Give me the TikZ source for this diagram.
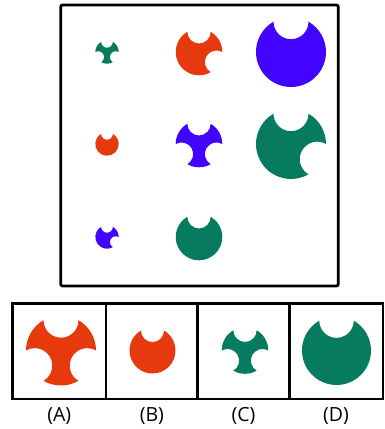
\documentclass[tikz,border=0pt]{standalone}
\usepackage{fontspec}
\setsansfont{Open Sans}
\definecolor{cred}{HTML}{E63A0E}
\definecolor{cblue}{HTML}{4203FF}
\definecolor{cgreen}{HTML}{077B5F}
\newcommand\bitesec[2]{arc[start angle=#1-60, end angle=#1-30, radius=#2] arc[start angle=#1-90, end angle=#1-270, radius=0.5*#2] arc[start angle=#1+30, end angle=#1+60, radius=#2]}
\newcommand\fullsec[2]{arc[start angle=#1-60, end angle=#1+60, radius=#2]}
\newcommand\shp[7]{%
  \begin{scope}[shift={(#1,#2)}]
    \fill[#4] (-90:#3) #5{-30}{#3} #6{90}{#3} #7{210}{#3} -- cycle;
    \draw[#4!92!black, line width=0.25pt, opacity=0.35] (0,0) -- (30:#3) (0,0) -- (150:#3) (0,0) -- (270:#3);
  \end{scope}}
\tikzset{frame/.style={draw=black, line width=2.8pt}, lbl/.style={font=\sffamily\fontsize{19.5}{22}\selectfont}}
\begin{document}
\begin{tikzpicture}[x=1pt,y=1pt]
\useasboundingbox (0,0) rectangle (385,429);
% main box
\draw[frame, rounded corners=2pt] (60.7,424) rectangle (338.3,143);
% grid
\shp{107}{377}{11.7pt}{cgreen}{\bitesec}{\bitesec}{\bitesec}
\shp{199}{377}{23.3pt}{cred}{\bitesec}{\bitesec}{\fullsec}
\shp{291}{377}{35pt}{cblue}{\fullsec}{\bitesec}{\fullsec}
\shp{107}{285}{11.7pt}{cred}{\fullsec}{\bitesec}{\fullsec}
\shp{199}{285}{23.3pt}{cblue}{\bitesec}{\bitesec}{\bitesec}
\shp{291}{285}{35pt}{cgreen}{\bitesec}{\bitesec}{\fullsec}
\shp{107}{192}{11.7pt}{cblue}{\bitesec}{\bitesec}{\fullsec}
\shp{199}{192}{23.3pt}{cgreen}{\fullsec}{\bitesec}{\fullsec}
% option boxes
\draw[frame] (12.7,125.7) rectangle (383,30);
\draw[frame] (106,125.7) -- (106,30);
\draw[frame] (197.7,125.7) -- (197.7,30);
\draw[frame] (289.3,125.7) -- (289.3,30);
\shp{61}{78.5}{35pt}{cred}{\bitesec}{\bitesec}{\bitesec}
\shp{152.5}{78.5}{23pt}{cred}{\fullsec}{\bitesec}{\fullsec}
\shp{245}{78.5}{23.3pt}{cgreen}{\bitesec}{\bitesec}{\bitesec}
\shp{336.5}{78.5}{34.5pt}{cgreen}{\fullsec}{\bitesec}{\fullsec}
% labels
\node[lbl] (la) at (59.3,13.3) {(A)};
\node[lbl] (lb) at (151.9,13.3) {(B)};
\node[lbl] (lc) at (243.5,13.3) {(C)};
\node[lbl] (ld) at (336,13.3) {(D)};
\end{tikzpicture}
\end{document}
